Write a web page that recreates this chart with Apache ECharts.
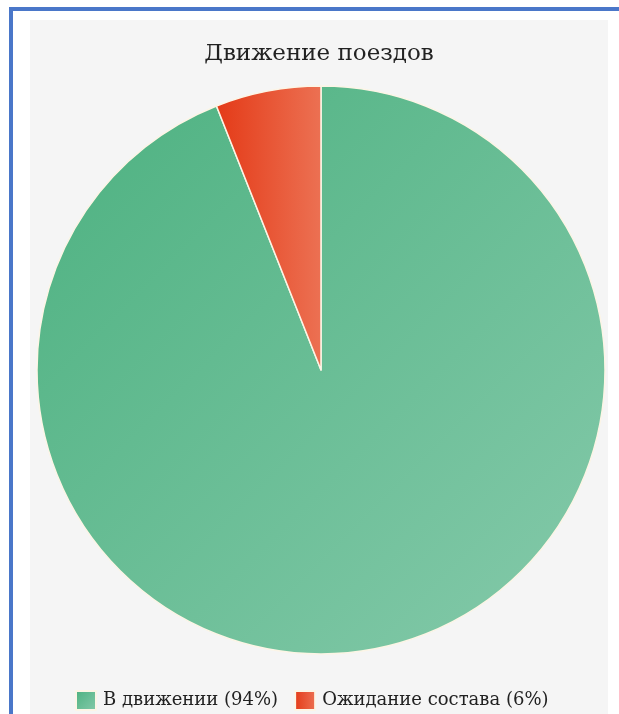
<!DOCTYPE html>
<html>
<head>
<meta charset="utf-8">
<script src="https://cdn.jsdelivr.net/npm/echarts@6/dist/echarts.min.js"></script>
<style>
  html, body { margin: 0; padding: 0; background: #fff; width: 619px; height: 714px; overflow: hidden; }
  .frame { position: absolute; left: 9px; top: 7px; width: 640px; height: 740px; border-left: 4px solid #4a77c9; border-top: 4px solid #4a77c9; }
  #chart { position: absolute; left: 30px; top: 20px; width: 578px; height: 694px; background: #f5f5f5; }
</style>
</head>
<body>
<div class="frame"></div>
<div id="chart"></div>
<script>
const TITLE = "Движение поездов";
const categories = ["В движении", "Ожидание состава"];
const values = [94, 6];
const colorStops = [
  ["#4cb180", "#86caab"],
  ["#e43a17", "#ec7153"]
];

const chart = echarts.init(document.getElementById("chart"), null, { renderer: "canvas" });

const data = categories.map((name, i) => ({
  name,
  value: values[i],
  itemStyle: {
    color: new echarts.graphic.LinearGradient(0, 0, 1, i === 0 ? 1 : 0, [
      { offset: 0, color: colorStops[i][0] },
      { offset: 1, color: colorStops[i][1] }
    ])
  }
}));

const serif = "DejaVu Serif";

chart.setOption({
  backgroundColor: "#f5f5f5",
  animation: false,
  title: {
    text: TITLE,
    left: "center",
    top: 18,
    textStyle: { fontFamily: serif, fontSize: 23, fontWeight: "normal", color: "#222" }
  },
  legend: {
    top: 665,
    left: 40,
    icon: "rect",
    itemWidth: 20,
    itemHeight: 19,
    itemGap: 16,
    textStyle: { fontFamily: serif, fontSize: 18, color: "#222", padding: [0, 0, 0, 2] },
    formatter: (name) => `${name} (${values[categories.indexOf(name)]}%)`
  },
  series: [
    {
      type: "pie",
      center: [291, 350],
      radius: 284,
      startAngle: 90,
      clockwise: true,
      label: { show: false },
      labelLine: { show: false },
      emphasis: { disabled: true },
      itemStyle: { borderColor: "#fcf5e6", borderWidth: 1.5 },
      data
    }
  ]
});
</script>
</body>
</html>
